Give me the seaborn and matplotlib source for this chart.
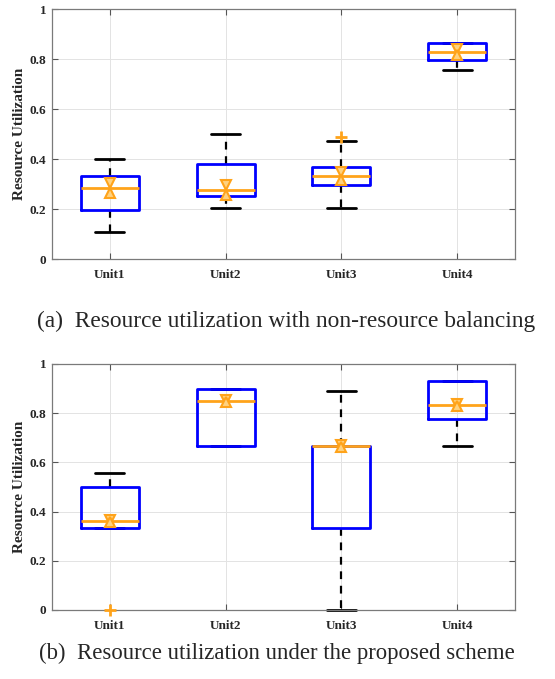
import numpy as np
import pandas as pd
import matplotlib
matplotlib.use("Agg")
import matplotlib.pyplot as plt
import seaborn as sns

# ---- data (reconstructed samples whose box statistics match the picture) ----
units = ["Unit1", "Unit2", "Unit3", "Unit4"]

# (a) non-resource balancing
a_unit1 = [0.107, 0.197, 0.283, 0.331, 0.400]
a_unit2 = [0.204, 0.251, 0.275, 0.381, 0.501]
a_unit3 = [0.204, 0.295, 0.295, 0.332, 0.332, 0.368, 0.368, 0.473, 0.488]
a_unit4 = [0.755, 0.796, 0.827, 0.863, 0.863]
a_notch = [0.020, 0.020, 0.015, 0.012]

# (b) proposed scheme
b_unit1 = [0.000, 0.334, 0.334, 0.334, 0.362, 0.502, 0.502, 0.556, 0.556]
b_unit2 = [0.666, 0.666, 0.851, 0.900, 0.900]
b_unit3 = [0.000, 0.334, 0.666, 0.666, 0.889]
b_unit4 = [0.666, 0.777, 0.834, 0.929, 0.929]
b_notch = [0.004, 0.004, 0.004, 0.004]

yticks = [0, 0.2, 0.4, 0.6, 0.8, 1]
ytick_labels = ["0", "0.2", "0.4", "0.6", "0.8", "1"]
ylabel = "Resource Utilization"
cap_a = "(a)  Resource utilization with non-resource balancing"
cap_b = "(b)  Resource utilization under the proposed scheme"

ORANGE = "#FFA31A"
BLUE = "#0000FF"


def long_df(groups):
    rows = []
    for u, vals in zip(units, groups):
        for v in vals:
            rows.append((u, v))
    return pd.DataFrame(rows, columns=["unit", "value"])


sns.set_style("whitegrid")
plt.rcParams["font.family"] = ["Liberation Serif", "DejaVu Serif"]

fig = plt.figure(figsize=(5.55, 6.79), dpi=100)
ax1 = fig.add_axes([52 / 555, 1 - 259 / 679, 463 / 555, 250 / 679])
ax2 = fig.add_axes([52 / 555, 1 - 610 / 679, 463 / 555, 246 / 679])

panels = [
    (ax1, [a_unit1, a_unit2, a_unit3, a_unit4], a_notch),
    (ax2, [b_unit1, b_unit2, b_unit3, b_unit4], b_notch),
]

for ax, groups, notch in panels:
    df = long_df(groups)
    sns.boxplot(
        data=df, x="unit", y="value", order=units, ax=ax,
        width=0.5, fill=False, whis=1.5, linewidth=2,
        boxprops=dict(color=BLUE, linewidth=2, zorder=4),
        medianprops=dict(color=ORANGE, linewidth=2, zorder=5),
        whiskerprops=dict(color="black", linestyle=(0, (3.5, 3)),
                          linewidth=1.6, zorder=2),
        capprops=dict(color="black", linewidth=2, zorder=2),
        flierprops=dict(marker="+", markeredgecolor=ORANGE, markersize=8,
                        markeredgewidth=2, zorder=6),
        capwidths=0.25,
    )
    for ln in ax.lines:
        ln.set_clip_on(False)
    meds = [float(np.median(g)) for g in groups]
    xs = np.arange(len(units))
    ax.plot(xs, np.array(meds) + np.array(notch), linestyle="none",
            marker="v", markersize=6.5, markerfacecolor="#FFD27F",
            markeredgecolor=ORANGE, markeredgewidth=1.5, zorder=6)
    ax.plot(xs, np.array(meds) - np.array(notch), linestyle="none",
            marker="^", markersize=6.5, markerfacecolor="#FFD27F",
            markeredgecolor=ORANGE, markeredgewidth=1.5, zorder=6)

    ax.set_xlim(-0.5, 3.5)
    ax.set_ylim(0, 1)
    ax.set_yticks(yticks)
    ax.set_yticklabels(ytick_labels)
    ax.set_xlabel("")
    ax.set_ylabel(ylabel, fontsize=11, fontweight="bold", labelpad=3)
    ax.grid(True, color="#e3e3e3", linewidth=0.7)
    ax.set_axisbelow(True)
    for s in ax.spines.values():
        s.set_color("#7a7a7a")
        s.set_linewidth(0.9)
        s.set_visible(True)
    ax.tick_params(axis="both", direction="in", length=4, width=0.8,
                   color="#555555", labelsize=9.5, right=True, top=True,
                   left=True, bottom=True)
    ax.tick_params(axis="x", pad=7)
    ax.tick_params(axis="y", pad=4)
    for lab in ax.get_xticklabels() + ax.get_yticklabels():
        lab.set_fontweight("bold")
    ax.set_facecolor("white")

fig.text(286 / 555, 1 - 321 / 679, cap_a, ha="center", va="center",
         fontsize=16.8)
fig.text(277 / 555, 1 - 653 / 679, cap_b, ha="center", va="center",
         fontsize=16.4)

fig.savefig("out.png", dpi=100, facecolor="white")
